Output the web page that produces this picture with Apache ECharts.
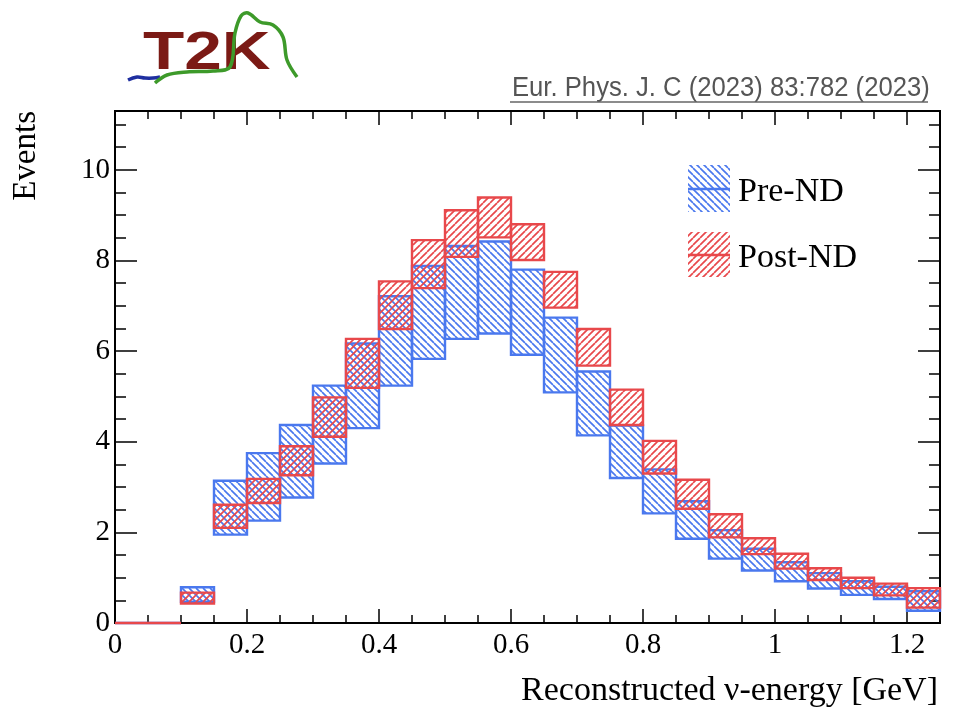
<!DOCTYPE html>
<html>
<head>
<meta charset="utf-8">
<script src="https://cdn.jsdelivr.net/npm/echarts@6/dist/echarts.min.js"></script>
<style>
  html, body { margin: 0; padding: 0; background: #fff; }
  #chart { width: 953px; height: 716px; }
</style>
</head>
<body>
<div id="chart"></div>
<script>
// bin lower edges (GeV), all bins 0.05 wide
const binLow = [0, 0.05, 0.1, 0.15, 0.2, 0.25, 0.3, 0.35, 0.4, 0.45, 0.5, 0.55, 0.6,
  0.65, 0.7, 0.75, 0.8, 0.85, 0.9, 0.95, 1.0, 1.05, 1.1, 1.15, 1.2];
const binWidth = 0.05;

// Pre-ND band (low / high edge of the error band)
const preLow = [0, 0, 0.47, 1.95, 2.26, 2.77, 3.52, 4.30, 5.24, 5.83, 6.27, 6.39, 5.92,
  5.09, 4.14, 3.20, 2.42, 1.86, 1.42, 1.16, 0.92, 0.76, 0.62, 0.53, 0.27];
const preHigh = [0, 0, 0.79, 3.14, 3.75, 4.37, 5.24, 6.17, 7.21, 7.88, 8.32, 8.42, 7.80,
  6.74, 5.55, 4.36, 3.39, 2.69, 2.05, 1.64, 1.34, 1.10, 0.92, 0.80, 0.70];

// Post-ND band
const postLow = [0, 0, 0.43, 2.10, 2.65, 3.26, 4.11, 5.19, 6.49, 7.39, 8.08, 8.51, 8.01,
  6.96, 5.68, 4.37, 3.30, 2.52, 1.89, 1.52, 1.20, 0.95, 0.77, 0.61, 0.34];
const postHigh = [0, 0, 0.67, 2.61, 3.18, 3.90, 4.98, 6.27, 7.54, 8.45, 9.11, 9.39, 8.80,
  7.75, 6.49, 5.15, 4.02, 3.16, 2.40, 1.87, 1.53, 1.21, 1.00, 0.87, 0.77];

const BLUE = '#4a78ee';
const RED = '#e8484b';
const SERIF = 'Liberation Serif, DejaVu Serif, serif';

// diagonal hatch patterns
function hatch(color, dir) {
  const s = 7;
  const c = document.createElement('canvas');
  c.width = s; c.height = s;
  const ctx = c.getContext('2d');
  ctx.strokeStyle = color;
  ctx.lineWidth = 1.7;
  for (let x0 = -s; x0 <= s; x0 += s) {
    ctx.beginPath();
    if (dir === 'back') { ctx.moveTo(x0, 0); ctx.lineTo(x0 + s, s); }
    else { ctx.moveTo(x0, s); ctx.lineTo(x0 + s, 0); }
    ctx.stroke();
  }
  return { image: c, repeat: 'repeat' };
}
const bluePattern = hatch(BLUE, 'back');
const redPattern = hatch(RED, 'fwd');

function bandSeries(name, lows, highs, color, pattern) {
  return {
    name: name,
    type: 'custom',
    xAxisIndex: 0,
    yAxisIndex: 0,
    data: binLow.map((x, i) => [x, lows[i], highs[i]]),
    encode: { x: 0, y: [1, 2] },
    renderItem: function (params, api) {
      const x0 = api.value(0);
      const p0 = api.coord([x0, api.value(2)]);
      const p1 = api.coord([x0 + binWidth, api.value(1)]);
      return {
        type: 'rect',
        shape: { x: p0[0], y: p0[1], width: p1[0] - p0[0], height: p1[1] - p0[1] },
        style: { fill: pattern, stroke: color, lineWidth: 2.4 }
      };
    }
  };
}

const chart = echarts.init(document.getElementById('chart'));

const tickLine = { color: '#000', width: 1.5 };
const hideOdd = (v) => (Math.abs(v * 10 - Math.round(v * 10)) < 1e-6 && Math.round(v * 10) % 2 === 0) ? String(+v.toFixed(1)) : '';

function xAx(pos, interval, len, labels) {
  return {
    type: 'value', min: 0, max: 1.25, interval: interval, position: pos,
    axisLine: { show: true, onZero: false, lineStyle: { color: '#000', width: 2 } },
    axisTick: { show: true, inside: true, length: len, lineStyle: tickLine },
    axisLabel: labels ? {
      show: true, fontFamily: SERIF, fontSize: 29, color: '#000', margin: 8,
      formatter: hideOdd
    } : { show: false },
    splitLine: { show: false }
  };
}
function yAx(pos, interval, len, labels) {
  return {
    type: 'value', min: 0, max: 11.3, interval: interval, position: pos,
    axisLine: { show: true, onZero: false, lineStyle: { color: '#000', width: 2 } },
    axisTick: { show: true, inside: true, length: len, lineStyle: tickLine },
    axisLabel: labels ? {
      show: true, fontFamily: SERIF, fontSize: 29, color: '#000', margin: 5,
      formatter: (v) => (v % 2 === 0 ? String(v) : '')
    } : { show: false },
    splitLine: { show: false }
  };
}

const option = {
  animation: false,
  backgroundColor: '#fff',
  grid: { left: 115, right: 13, top: 111, bottom: 93, containLabel: false },
  xAxis: [
    xAx('bottom', 0.2, 14, true),
    xAx('bottom', 0.05, 8, false),
    xAx('top', 0.2, 14, false),
    xAx('top', 0.05, 8, false)
  ],
  yAxis: [
    yAx('left', 2, 22, true),
    yAx('left', 0.5, 11, false),
    yAx('right', 2, 22, false),
    yAx('right', 0.5, 11, false)
  ],
  series: [
    bandSeries('Pre-ND', preLow, preHigh, BLUE, bluePattern),
    bandSeries('Post-ND', postLow, postHigh, RED, redPattern)
  ],
  graphic: [
    // axis titles
    {
      type: 'text', x: 26, y: 111, rotation: Math.PI / 2,
      style: { text: 'Events', font: '33px ' + SERIF, fill: '#000', align: 'right', verticalAlign: 'middle' }
    },
    {
      type: 'text', x: 938, y: 691,
      style: { text: 'Reconstructed \u03bd-energy [GeV]', font: '34px ' + SERIF, fill: '#000', align: 'right', verticalAlign: 'middle' }
    },
    // legend
    { type: 'rect', shape: { x: 688, y: 165, width: 42, height: 47 }, style: { fill: bluePattern } },
    { type: 'line', shape: { x1: 688, y1: 189, x2: 730, y2: 189 }, style: { stroke: BLUE, lineWidth: 2.5 } },
    { type: 'text', x: 738, y: 192, style: { text: 'Pre-ND', font: '34px ' + SERIF, fill: '#000', verticalAlign: 'middle' } },
    { type: 'rect', shape: { x: 688, y: 232, width: 42, height: 45 }, style: { fill: redPattern } },
    { type: 'line', shape: { x1: 688, y1: 255, x2: 730, y2: 255 }, style: { stroke: RED, lineWidth: 2.5 } },
    { type: 'text', x: 738, y: 258, style: { text: 'Post-ND', font: '34px ' + SERIF, fill: '#000', verticalAlign: 'middle' } },
    // citation
    {
      type: 'text', x: 512, y: 89, scaleX: 0.95,
      style: { text: 'Eur. Phys. J. C (2023) 83:782 (2023)', font: '27px Liberation Sans, Arial, sans-serif', fill: '#555', verticalAlign: 'middle' }
    },
    { type: 'line', shape: { x1: 510, y1: 102, x2: 928, y2: 102 }, style: { stroke: '#666', lineWidth: 1.5 } },
    // T2K logo
    {
      type: 'text', x: 143, y: 54, scaleX: 1.25,
      style: { text: 'T2K', font: 'bold 54px Liberation Sans, Arial, sans-serif', fill: '#7b1a15', verticalAlign: 'middle' }
    },
    {
      type: 'polyline', shape: { smooth: 0.4, points: [[128, 80], [137, 77], [145, 78], [153, 78], [160, 77]] },
      style: { stroke: '#1f2fa0', lineWidth: 3.5, fill: null }
    },
    {
      type: 'polyline',
      shape: { smooth: 0.35, points: [[155, 83], [167, 75], [187, 72], [213, 71], [230, 67], [235, 33], [241, 16], [248, 13], [260, 22], [273, 25], [283, 37], [287, 60], [297, 77]] },
      style: { stroke: '#3d9a2a', lineWidth: 3.5, fill: null }
    }
  ]
};

chart.setOption(option);
</script>
</body>
</html>
